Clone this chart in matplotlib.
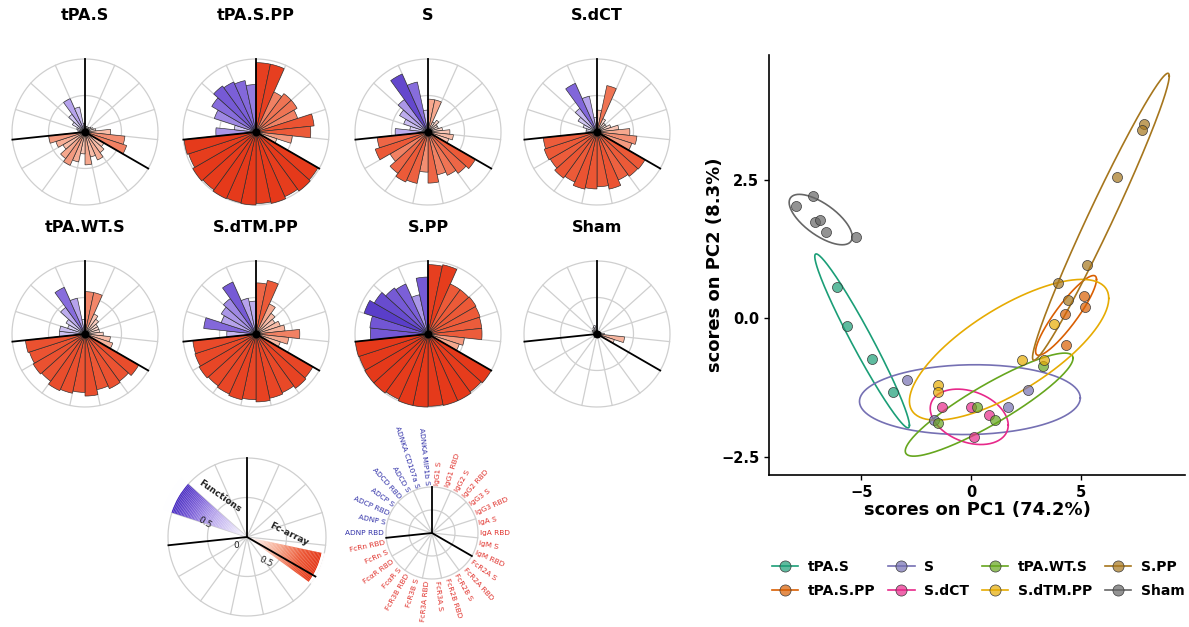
import numpy as np
import matplotlib
matplotlib.use('Agg')
import matplotlib.pyplot as plt
from matplotlib.colors import LinearSegmentedColormap, to_rgba
from matplotlib.lines import Line2D

W, H = 1189, 627

# ---- radar features (clockwise from 12 o'clock) ----
titers = ['IgG1 S', 'IgG1 RBD', 'IgG2 S', 'IgG2 RBD', 'IgG3 S', 'IgG3 RBD',
          'IgA S', 'IgA RBD', 'IgM S', 'IgM RBD']
fcrs = ['FcR2A S', 'FcR2A RBD', 'FcR2B S', 'FcR2B RBD', 'FcR3A S', 'FcR3A RBD',
        'FcR3B S', 'FcR3B RBD', 'FcαR S', 'FcαR RBD', 'FcRn S', 'FcRn RBD']
functions = ['ADNP RBD', 'ADNP S', 'ADCP RBD', 'ADCP S', 'ADCD RBD', 'ADCD S',
             'ADNKA CD107a S', 'ADNKA MIP1b S']
features = titers + fcrs + functions

panel_names = ['tPA.S', 'tPA.S.PP', 'S', 'S.dCT',
               'tPA.WT.S', 'S.dTM.PP', 'S.PP', 'Sham']

v_tpa_s = [0.05, 0.08, 0.06, 0.08, 0.1, 0.12, 0.15, 0.35, 0.55, 0.6,
           0.3, 0.35, 0.42, 0.35, 0.45, 0.3, 0.42, 0.5, 0.45, 0.35, 0.42, 0.5,
           0.08, 0.1, 0.12, 0.2, 0.3, 0.5, 0.35, 0.12]
v_tpa_s_pp = [0.95, 0.95, 0.6, 0.65, 0.65, 0.6, 0.8, 0.75, 0.5, 0.3,
              0.98, 1.0, 0.97, 1.0, 0.98, 1.0, 0.99, 1.0, 0.98, 1.0, 0.97, 0.99,
              0.55, 0.3, 0.6, 0.7, 0.78, 0.75, 0.72, 0.65]
v_s = [0.45, 0.45, 0.15, 0.2, 0.15, 0.15, 0.2, 0.3, 0.35, 0.3,
       0.75, 0.7, 0.65, 0.6, 0.7, 0.55, 0.72, 0.75, 0.7, 0.6, 0.76, 0.7,
       0.45, 0.25, 0.35, 0.45, 0.55, 0.87, 0.7, 0.3]
v_s_dct = [0.3, 0.65, 0.2, 0.15, 0.15, 0.2, 0.3, 0.45, 0.55, 0.5,
           0.76, 0.75, 0.72, 0.8, 0.75, 0.78, 0.8, 0.75, 0.78, 0.74, 0.76, 0.74,
           0.15, 0.15, 0.2, 0.3, 0.4, 0.73, 0.5, 0.2]
v_tpa_wt_s = [0.58, 0.58, 0.3, 0.25, 0.2, 0.2, 0.2, 0.25, 0.35, 0.4,
              0.85, 0.8, 0.82, 0.78, 0.85, 0.8, 0.83, 0.85, 0.8, 0.82, 0.8, 0.82,
              0.35, 0.35, 0.25, 0.3, 0.45, 0.7, 0.5, 0.2]
v_s_dtm_pp = [0.7, 0.75, 0.45, 0.35, 0.3, 0.35, 0.4, 0.6, 0.45, 0.35,
              0.9, 0.92, 0.88, 0.9, 0.93, 0.9, 0.92, 0.9, 0.88, 0.9, 0.88, 0.87,
              0.4, 0.72, 0.5, 0.55, 0.6, 0.78, 0.5, 0.45]
v_s_pp = [0.95, 0.97, 0.75, 0.75, 0.76, 0.75, 0.74, 0.74, 0.5, 0.45,
          1.0, 0.98, 1.0, 1.0, 0.99, 1.0, 1.0, 0.98, 1.0, 1.0, 0.99, 1.0,
          0.79, 0.8, 0.92, 0.85, 0.78, 0.75, 0.55, 0.78]
v_sham = [0.05, 0.03, 0.04, 0.03, 0.05, 0.04, 0.06, 0.1, 0.38, 0.25,
          0.06, 0.04, 0.05, 0.03, 0.04, 0.05, 0.03, 0.04, 0.06, 0.04, 0.05, 0.04,
          0.05, 0.04, 0.06, 0.08, 0.06, 0.1, 0.12, 0.05]
panel_values = [v_tpa_s, v_tpa_s_pp, v_s, v_s_dct,
                v_tpa_wt_s, v_s_dtm_pp, v_s_pp, v_sham]

# ---- PCA scores ----
groups = ['tPA.S', 'tPA.S.PP', 'S', 'S.dCT', 'tPA.WT.S', 'S.dTM.PP', 'S.PP', 'Sham']
group_colors = ['#1B9E77', '#D95F02', '#7570B3', '#E7298A',
                '#66A61E', '#E6AB02', '#A6761D', '#666666']
pc_group = (['tPA.S'] * 4 + ['tPA.S.PP'] * 4 + ['S'] * 4 + ['S.dCT'] * 4
            + ['tPA.WT.S'] * 4 + ['S.dTM.PP'] * 5 + ['S.PP'] * 6 + ['Sham'] * 6)
pc1 = [-6.1, -5.65, -4.51, -3.58,
       5.18, 5.21, 4.30, 4.35,
       -2.9, 2.6, 1.7, -1.67,
       -1.3, -0.01, 0.8, 0.15,
       3.29, 0.26, 1.09, -1.49,
       3.77, 2.35, 3.33, -1.51, -1.51,
       7.88, 7.80, 6.65, 5.29, 3.97, 4.42,
       -7.97, -7.2, -7.14, -6.9, -6.62, -5.24]
pc2 = [0.57, -0.14, -0.74, -1.33,
       0.40, 0.20, 0.07, -0.49,
       -1.11, -1.30, -1.60, -1.84,
       -1.61, -1.61, -1.74, -2.15,
       -0.87, -1.61, -1.83, -1.90,
       -0.11, -0.75, -0.75, -1.21, -1.33,
       3.50, 3.39, 2.55, 0.96, 0.63, 0.32,
       2.03, 2.21, 1.74, 1.78, 1.55, 1.46]
# confidence ellipses: centre, spread along x / y, correlation
ell_cx = [-4.97, 4.34, -0.05, -0.08, 0.83, 1.74, 5.93, -6.86]
ell_cy = [-0.41, 0.05, -1.47, -1.78, -1.56, -0.57, 1.83, 1.78]
ell_sx = [2.16, 1.39, 5.04, 1.78, 3.83, 4.55, 3.12, 1.44]
ell_sy = [1.57, 0.72, 0.63, 0.50, 0.93, 1.27, 2.59, 0.455]
ell_r = [-0.97, 0.9, 0.05, -0.3, 0.9, 0.73, 0.98, -0.68]

fig = plt.figure(figsize=(W / 100, H / 100), dpi=100)
plt.rcParams['font.family'] = ['DejaVu Sans']

func_cmap = LinearSegmentedColormap.from_list(
    'func', [(0, '#FFFFFF'), (0.5, '#B6A4EC'), (0.75, '#7C60D8'), (1, '#4A2EC2')])
fc_cmap = LinearSegmentedColormap.from_list(
    'fc', [(0, '#FFFFFF'), (0.45, '#F6A88E'), (0.75, '#EC5A38'), (1, '#E5391A')])

n = len(features)
step = 2 * np.pi / n
theta_c = (np.arange(n) + 0.5) * step
is_func = np.array([f in functions for f in features])
bounds_deg = [0, 12 * len(titers), 12 * (len(titers) + len(fcrs))]


def polar_ax(cx, cy, R, rmax=1.06):
    rr = R * rmax
    ax = fig.add_axes([(cx - rr) / W, 1 - (cy + rr) / H, 2 * rr / W, 2 * rr / H],
                      projection='polar')
    ax.set_theta_zero_location('N')
    ax.set_theta_direction(-1)
    ax.set_ylim(0, rmax)
    ax.axis('off')
    t = np.linspace(0, 2 * np.pi, 300)
    for rc in (0.5, 1.0):
        ax.plot(t, np.full_like(t, rc), color='#CFCFCF', lw=0.9, zorder=1)
    for d in range(0, 360, 24):
        if d not in bounds_deg:
            ax.plot([np.deg2rad(d)] * 2, [0, 1.0], color='#CFCFCF', lw=0.9, zorder=1)
    return ax


def black_lines(ax, rend=1.0):
    for d in bounds_deg:
        ax.plot([np.deg2rad(d)] * 2, [0, rend], color='black', lw=1.3, zorder=5)


centers_x = [85, 256, 428, 597]
centers_y = [132, 334]
title_y = [16, 228]
for k, (name, vals) in enumerate(zip(panel_names, panel_values)):
    row, col = divmod(k, 4)
    cx, cy = centers_x[col], centers_y[row]
    ax = polar_ax(cx, cy, 73)
    vals = np.array(vals)
    cols = [func_cmap(v) if f else fc_cmap(v) for v, f in zip(vals, is_func)]
    ax.bar(theta_c, vals, width=step, bottom=0, color=cols,
           edgecolor='#2A2A2A', linewidth=0.45, zorder=3)
    ax.scatter([0], [0], s=22, color='black', zorder=6)
    black_lines(ax)
    fig.text(cx / W, 1 - title_y[row] / H, name, ha='center', va='center',
             fontsize=11.5, fontweight='bold')

# ---- colour key ----
kax = polar_ax(247, 537, 79, rmax=1.15)
rs = np.linspace(0, 1.1, 60)
dr = rs[1] - rs[0]
for r0 in rs:
    kax.bar(np.deg2rad(300), dr, width=np.deg2rad(24), bottom=r0,
            color=func_cmap(min(r0 / 1.0, 1)), linewidth=0, zorder=3)
for r0 in np.linspace(0, 1.0, 60):
    kax.bar(np.deg2rad(114), dr, width=np.deg2rad(24), bottom=r0,
            color=fc_cmap(min(r0 / 0.95, 1)), linewidth=0, zorder=3)
black_lines(kax)
fig.text(220 / W, 1 - 496 / H, 'Functions', rotation=-35, ha='center', va='center',
         fontsize=6.5, fontweight='bold', color='#222222')
fig.text(205 / W, 1 - 523 / H, '0.5', rotation=-32, ha='center', va='center',
         fontsize=6.5, color='#222222')
fig.text(236 / W, 1 - 545 / H, '0', ha='center', va='center',
         fontsize=6.5, color='#222222')
fig.text(289 / W, 1 - 534 / H, 'Fc-array', rotation=-26, ha='center', va='center',
         fontsize=6.5, fontweight='bold', color='#222222')
fig.text(266 / W, 1 - 562 / H, '0.5', rotation=-26, ha='center', va='center',
         fontsize=6.5, color='#222222')

# ---- feature label wheel ----
lax = polar_ax(432, 533, 46, rmax=2.4)
black_lines(lax)
for t, lab, f in zip(theta_c, features, is_func):
    deg = np.rad2deg(t)
    if deg < 180:
        rot, ha = 90 - deg, 'left'
    else:
        rot, ha = 270 - deg, 'right'
    lax.text(t, 1.04, lab, rotation=rot, ha=ha, va='center', rotation_mode='anchor',
             fontsize=5.3, color='#3030A8' if f else '#E0302A')

# ---- PCA scatter ----
pax = fig.add_axes([769 / W, 1 - 475 / H, (1185 - 769) / W, (475 - 55) / H])
pc1 = np.array(pc1)
pc2 = np.array(pc2)
grp = np.array(pc_group)
tt = np.linspace(0, 2 * np.pi, 200)
for i, g in enumerate(groups):
    c = group_colors[i]
    ex = ell_cx[i] + ell_sx[i] * np.cos(tt)
    ey = ell_cy[i] + ell_sy[i] * (ell_r[i] * np.cos(tt)
                                  + np.sqrt(1 - ell_r[i] ** 2) * np.sin(tt))
    pax.plot(ex, ey, color=c, lw=1.2, zorder=2)
for i, g in enumerate(groups):
    m = grp == g
    pax.scatter(pc1[m], pc2[m], s=52, color=to_rgba(group_colors[i], 0.7),
                edgecolor='#3A3A3A', linewidth=0.5, zorder=3)
pax.set_xlim(-9.22, 9.77)
pax.set_ylim(-2.83, 4.75)
pax.set_xticks([-5, 0, 5])
pax.set_yticks([-2.5, 0.0, 2.5])
pax.set_yticklabels(['−2.5', '0.0', '2.5'])
pax.set_xticklabels(['−5', '0', '5'])
for s in ('top', 'right'):
    pax.spines[s].set_visible(False)
for s in ('left', 'bottom'):
    pax.spines[s].set_linewidth(1.2)
pax.tick_params(length=3.5, width=1, labelsize=10.5)
for lab in pax.get_xticklabels() + pax.get_yticklabels():
    lab.set_fontweight('bold')
pax.set_xlabel('scores on PC1 (74.2%)', fontsize=13, fontweight='bold', labelpad=1)
pax.set_ylabel('scores on PC2 (8.3%)', fontsize=13, fontweight='bold', labelpad=-2)

handles = [Line2D([0], [0], color=c, lw=1.2, marker='o', markersize=8,
                  markerfacecolor=to_rgba(c, 0.7), markeredgecolor='#3A3A3A',
                  markeredgewidth=0.5) for c in group_colors]
fig.legend(handles, groups, ncol=4, loc='center left',
           bbox_to_anchor=(772 / W, 1 - 579 / H),
           frameon=False, prop={'weight': 'bold', 'size': 10}, handlelength=1.9,
           columnspacing=0.9, labelspacing=0.75, handletextpad=0.7,
           borderaxespad=0, borderpad=0)

fig.savefig('out.png', dpi=100)
